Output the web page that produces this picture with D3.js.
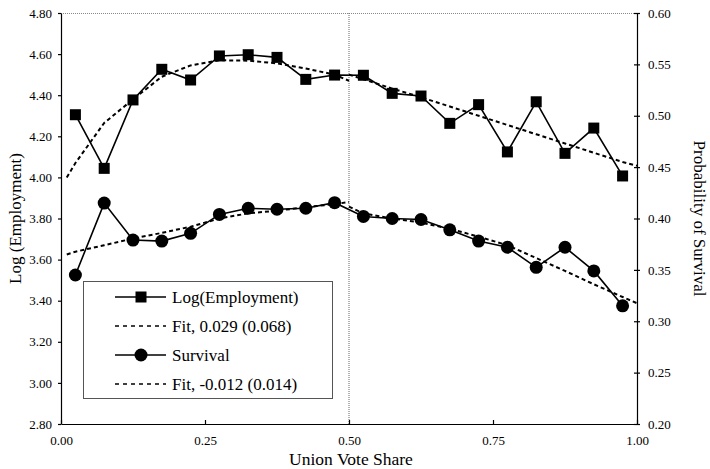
<!DOCTYPE html>
<html>
<head>
<meta charset="utf-8">
<script src="https://cdn.jsdelivr.net/npm/d3@7"></script>
<style>
  body { margin: 0; background: #fff; }
  text { font-family: "Liberation Serif", "Times New Roman", serif; fill: #000; }
  .axis text { font-size: 13px; font-family: "Liberation Serif", "Times New Roman", serif; }
  .axis path, .axis line { stroke: #000; stroke-width: 1.2; }
  .title { font-size: 17px; }
</style>
</head>
<body>
<div id="vis"></div>
<script>
// bins of union vote share
var voteShare = [0.025, 0.075, 0.125, 0.175, 0.225, 0.275, 0.325, 0.375, 0.425, 0.475,
                 0.525, 0.575, 0.625, 0.675, 0.725, 0.775, 0.825, 0.875, 0.925, 0.975];
var logEmp = [4.305, 4.044, 4.377, 4.526, 4.474, 4.591, 4.597, 4.584, 4.477, 4.498,
              4.497, 4.409, 4.396, 4.263, 4.354, 4.124, 4.368, 4.117, 4.240, 4.007];
var survival = [0.345, 0.415, 0.379, 0.378, 0.3856, 0.404, 0.410, 0.409, 0.410, 0.4154,
                0.402, 0.400, 0.399, 0.389, 0.378, 0.372, 0.3525, 0.372, 0.349, 0.315];

// fitted curves, each side of the 0.50 threshold
var fitLeftX = [0.01, 0.025, 0.075, 0.125, 0.175, 0.225, 0.275, 0.325, 0.375, 0.425, 0.475, 0.5];
var fitRightX = [0.5, 0.525, 0.575, 0.625, 0.675, 0.725, 0.775, 0.825, 0.875, 0.925, 0.975, 1.0];
var empFitLeft = [4.00, 4.07, 4.265, 4.38, 4.49, 4.545, 4.57, 4.568, 4.555, 4.53, 4.50, 4.47];
var empFitRight = [4.50, 4.478, 4.432, 4.39, 4.345, 4.30, 4.255, 4.21, 4.165, 4.12, 4.075, 4.057];
var survFitLeft = [0.365, 0.3677, 0.374, 0.3805, 0.386, 0.392, 0.40, 0.405, 0.4076, 0.411, 0.414, 0.416];
var survFitRight = [0.4115, 0.405, 0.40, 0.396, 0.39, 0.3823, 0.374, 0.3615, 0.349, 0.336, 0.3236, 0.3175];

var xTicks = [0, 0.25, 0.5, 0.75, 1.0];
var leftTicks = [2.8, 3.0, 3.2, 3.4, 3.6, 3.8, 4.0, 4.2, 4.4, 4.6, 4.8];
var rightTicks = [0.20, 0.25, 0.30, 0.35, 0.40, 0.45, 0.50, 0.55, 0.60];
var legendLabels = ['Log(Employment)', 'Fit, 0.029 (0.068)', 'Survival', 'Fit, -0.012 (0.014)'];

var margin = { left: 61, bottom: 45, top: 13, right: 73 };
var height = 469,
    width = 710,
    drawHeight = height - margin.bottom - margin.top,
    drawWidth = width - margin.right - margin.left;

var svg = d3.select('#vis')
            .append('svg')
            .attr('height', height)
            .attr('width', width);
var g = svg.append('g')
           .attr('transform', `translate(${margin.left}, ${margin.top})`);

var xScale = d3.scaleLinear().domain([0, 1]).range([0, drawWidth]);
var yLeft = d3.scaleLinear().domain([2.8, 4.8]).range([drawHeight, 0]);
var yRight = d3.scaleLinear().domain([0.2, 0.6]).range([drawHeight, 0]);

// top frame and threshold line
g.append('line')
 .attr('x1', 0).attr('x2', drawWidth).attr('y1', 0.5).attr('y2', 0.5)
 .attr('stroke', '#888').attr('stroke-width', 1).attr('stroke-dasharray', '1,1');
g.append('line')
 .attr('x1', xScale(0.5)).attr('x2', xScale(0.5)).attr('y1', 0).attr('y2', drawHeight)
 .attr('stroke', '#666').attr('stroke-width', 1).attr('stroke-dasharray', '1,1');

var xAxis = d3.axisBottom(xScale).tickValues(xTicks).tickFormat(d3.format('.2f'))
              .tickSizeInner(-4).tickSizeOuter(0).tickPadding(12);
var leftAxis = d3.axisLeft(yLeft).tickValues(leftTicks).tickFormat(d3.format('.2f'))
                 .tickSizeInner(3).tickSizeOuter(0).tickPadding(6);
var rightAxis = d3.axisRight(yRight).tickValues(rightTicks).tickFormat(d3.format('.2f'))
                  .tickSizeInner(3).tickSizeOuter(0).tickPadding(8);

g.append('g').attr('class', 'axis')
 .attr('transform', `translate(0, ${drawHeight})`).call(xAxis);
g.append('g').attr('class', 'axis').call(leftAxis);
var ra = g.append('g').attr('class', 'axis')
          .attr('transform', `translate(${drawWidth}, 0)`).call(rightAxis);
ra.selectAll('.tick line').attr('x1', -3);

// axis titles
svg.append('text').attr('class', 'title')
   .attr('x', margin.left + drawWidth / 2 + 2).attr('y', 465)
   .attr('text-anchor', 'middle').style('font-size', '17.5px').text('Union Vote Share');
svg.append('text').attr('class', 'title')
   .attr('transform', `translate(21, ${margin.top + drawHeight / 2}) rotate(-90)`)
   .attr('text-anchor', 'middle').text('Log (Employment)');
svg.append('text').attr('class', 'title')
   .attr('transform', `translate(694, ${margin.top + drawHeight / 2}) rotate(90)`)
   .attr('text-anchor', 'middle').text('Probability of Survival');

var fitLine = (scale) => d3.line().x((d) => xScale(d[0])).y((d) => scale(d[1]));
var drawFit = (xs, ys, scale) => {
    g.append('path')
     .datum(d3.zip(xs, ys))
     .attr('d', fitLine(scale))
     .attr('fill', 'none').attr('stroke', '#000')
     .attr('stroke-width', 2).attr('stroke-dasharray', '4,3');
};
drawFit(fitLeftX, empFitLeft, yLeft);
drawFit(fitRightX, empFitRight, yLeft);
drawFit(fitLeftX, survFitLeft, yRight);
drawFit(fitRightX, survFitRight, yRight);

var drawSeries = (ys, scale) => {
    g.append('path')
     .datum(d3.zip(voteShare, ys))
     .attr('d', fitLine(scale))
     .attr('fill', 'none').attr('stroke', '#000').attr('stroke-width', 1.6);
};
drawSeries(logEmp, yLeft);
drawSeries(survival, yRight);

g.selectAll('rect.emp')
 .data(d3.zip(voteShare, logEmp))
 .enter().append('rect').attr('class', 'emp')
 .attr('x', (d) => xScale(d[0]) - 5.5)
 .attr('y', (d) => yLeft(d[1]) - 5.5)
 .attr('width', 11).attr('height', 11)
 .attr('fill', '#000');

g.selectAll('circle.surv')
 .data(d3.zip(voteShare, survival))
 .enter().append('circle').attr('class', 'surv')
 .attr('cx', (d) => xScale(d[0]))
 .attr('cy', (d) => yRight(d[1]))
 .attr('r', 6.5)
 .attr('fill', '#000');

// legend
var legend = svg.append('g').attr('transform', 'translate(83, 281)');
legend.append('rect')
      .attr('x', 0.5).attr('y', 0.5).attr('width', 249).attr('height', 117)
      .attr('fill', '#fff').attr('stroke', '#555').attr('stroke-width', 1);
legendLabels.forEach((label, i) => {
    var cy = 16 + i * 29;
    var row = legend.append('g').attr('transform', `translate(0, ${cy})`);
    var dashed = (i % 2 === 1);
    row.append('line')
       .attr('x1', 32).attr('x2', 83).attr('y1', 0).attr('y2', 0)
       .attr('stroke', '#000')
       .attr('stroke-width', dashed ? 1.5 : 1.6)
       .attr('stroke-dasharray', dashed ? '4,4' : null);
    if (i === 0) {
        row.append('rect').attr('x', 52.5).attr('y', -5.5)
           .attr('width', 11).attr('height', 11).attr('fill', '#000');
    } else if (i === 2) {
        row.append('circle').attr('cx', 58).attr('cy', 0).attr('r', 6.5).attr('fill', '#000');
    }
    row.append('text')
       .attr('x', 89).attr('y', 6)
       .style('font-size', '17px')
       .text(label);
});
</script>
</body>
</html>
